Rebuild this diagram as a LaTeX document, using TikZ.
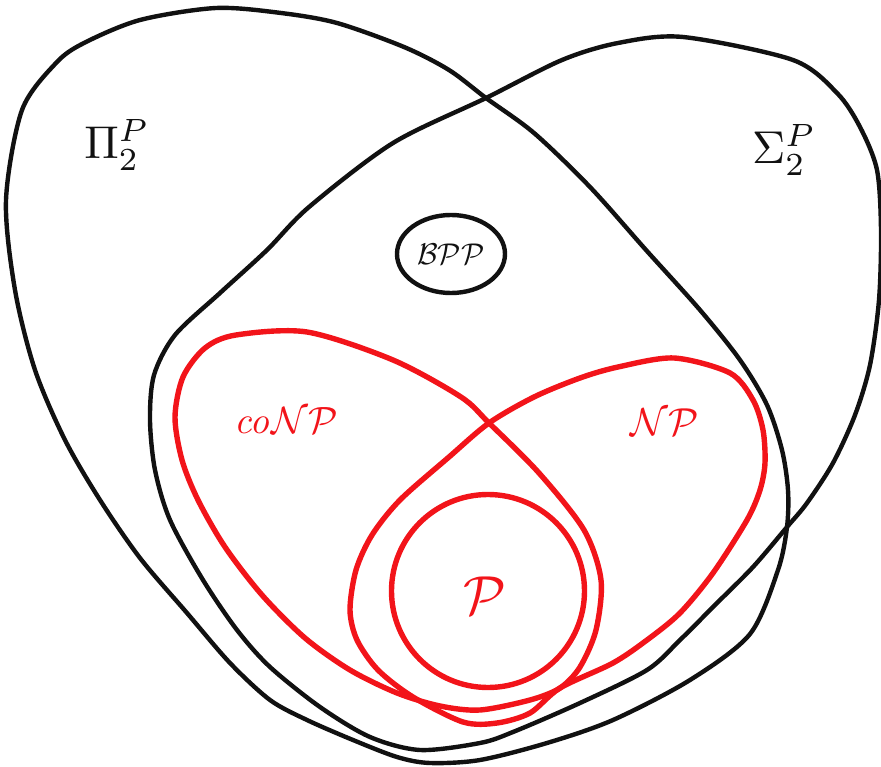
\documentclass[tikz,border=0pt]{standalone}
\usepackage{amsmath}
\usepackage{tikz}
\usetikzlibrary{shapes.geometric}
\definecolor{inkblack}{HTML}{111111}
\definecolor{inkred}{HTML}{F2141A}

\begin{document}
\begin{tikzpicture}[x=1pt,y=-1pt]
\tikzset{
class/.style={draw=inkblack,line width=4.4pt,line join=round},
redclass/.style={draw=inkred,line width=5.4pt,line join=round},
tag/.style={inner sep=0pt,text=inkblack},
redtag/.style={inner sep=0pt,text=inkred}}

\useasboundingbox (0,0) rectangle (881,767);

% the two level-two classes
\draw[class] plot[smooth cycle] coordinates {(216,8) (281,13) (337,23) (404,47) (449,70)
  (486,98) (534,133) (590,187) (646,250) (700,310) (740,360) (767,405) (782,450)
  (788,490) (787,527) (778,570) (750,634) (690,680) (613,720) (547,743) (480,760)
  (430,763) (397,757) (353,740) (307,720) (270,700) (230,663) (187,613) (140,558)
  (100,500) (65,440) (35,370) (15,290) (6,200) (22,110) (56,63) (84,43) (140,20)};
\draw[class] plot[smooth cycle] coordinates {(683,37) (793,60) (837,93) (860,127)
  (877,170) (881,230) (879,300) (870,365) (855,415) (833,463) (807,503) (787,527)
  (753,567) (715,605) (680,640) (647,670) (580,703) (513,732) (480,743) (420,750)
  (370,737) (320,707) (270,667) (237,630) (203,580) (170,520) (155,470) (150,420)
  (154,375) (175,335) (220,293) (267,250) (309,207) (393,143) (486,98) (562,60)
  (618,43)};

% coNP and NP
\draw[redclass] plot[smooth cycle] coordinates {(236,335) (307,332) (393,360) (461,397)
  (489,423) (539,473) (584,530) (601,580) (596,630) (580,667) (560,688) (530,700)
  (480,710) (440,706) (397,693) (350,670) (305,638) (262,595) (225,547) (198,500)
  (182,460) (175,417) (183,377) (205,348)};
\draw[redclass] plot[smooth cycle] coordinates {(489,423) (534,397) (580,378) (618,367)
  (674,358) (730,373) (753,400) (763,430) (765,463) (760,490) (747,520) (713,573)
  (680,613) (647,640) (613,663) (560,688) (530,713) (497,723) (463,722) (413,697)
  (378,670) (357,640) (350,610) (356,570) (372,535) (400,500) (449,457)};

\node[class,ellipse,minimum width=108pt,minimum height=78pt] (bpp) at (451,254) {};
\node[redclass,circle,minimum size=193pt] (p) at (488,591) {};

\node[tag,scale=4.6] (pi2) at (117,145) {$\Pi^P_2$};
\node[tag,scale=4.6] (sigma2) at (784,150) {$\Sigma^P_2$};
\node[tag,scale=3.0] (bpplabel) at (bpp) {$\mathcal{BPP}$};
\node[redtag,scale=3.8] (conp) at (286,421) {$\mathit{co}\mathcal{NP}$};
\node[redtag,scale=3.9] (np) at (665,422) {$\mathcal{NP}$};
\node[redtag,scale=5.5] (plabel) at (485,596) {$\mathcal{P}$};
\end{tikzpicture}
\end{document}
